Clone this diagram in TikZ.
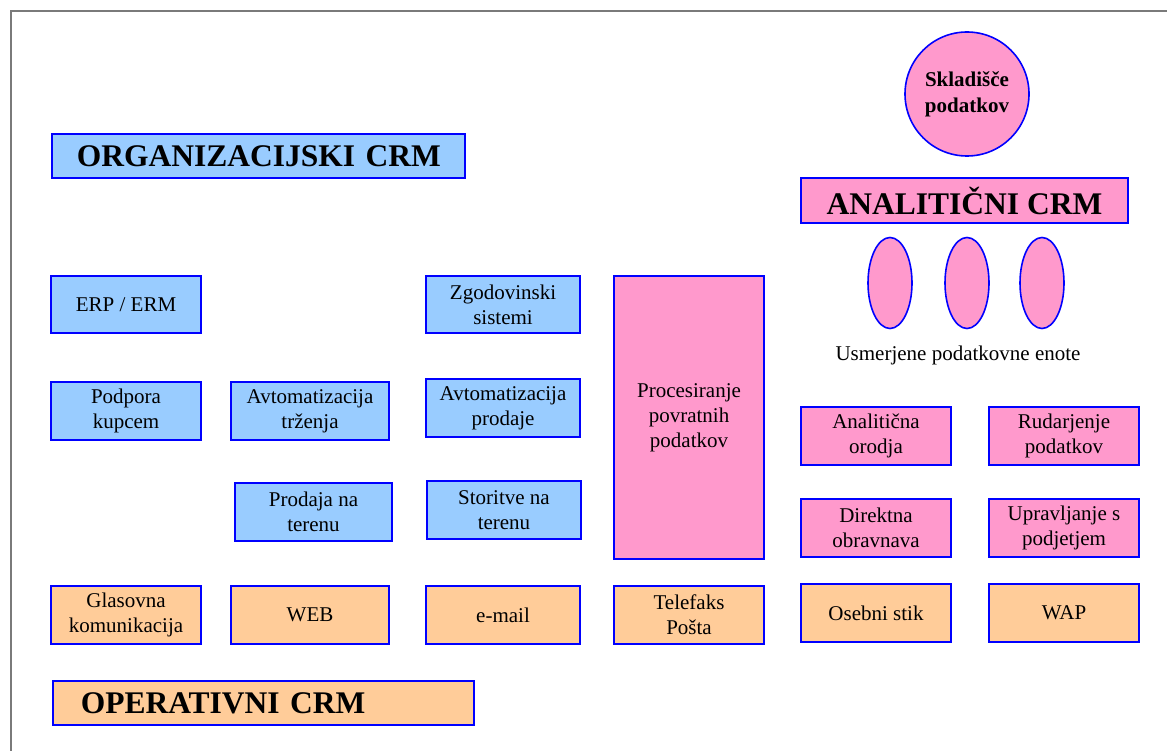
\documentclass[tikz,border=0pt]{standalone}
\usepackage{fontspec}
\setmainfont{Liberation Serif}
\usetikzlibrary{shapes.geometric}
\definecolor{orgblue}{HTML}{99CCFF}
\definecolor{anapink}{HTML}{FF99CC}
\definecolor{oppeach}{HTML}{FFCC99}
\definecolor{edgeblue}{HTML}{0000FF}
\definecolor{framegray}{HTML}{7A7A7A}
\tikzset{
  box/.style={draw=edgeblue, line width=1.6pt, rectangle, inner sep=0pt,
    align=center, font=\fontsize{21}{25}\selectfont},
  bluebox/.style={box, fill=orgblue},
  pinkbox/.style={box, fill=anapink},
  peachbox/.style={box, fill=oppeach},
  titlebox/.style={draw=edgeblue, line width=1.6pt, rectangle, inner ysep=0pt,
    font=\fontsize{31.5}{36}\selectfont\bfseries},
  unit/.style={draw=edgeblue, line width=1.6pt, fill=anapink, ellipse,
    inner sep=0pt, minimum width=44pt, minimum height=91pt}
}
\begin{document}
\begin{tikzpicture}[x=1pt,y=-1pt]
\useasboundingbox (0,0) rectangle (1167,751);
% page frame
\draw[framegray, line width=1.8pt] (11,751) -- (11,11) -- (1167,11);

% section titles
\node[titlebox, fill=orgblue, minimum height=44pt, inner xsep=25pt,
  text width=363pt, align=left, anchor=west] (org) at (51,156)
  {\mbox{ORGANIZACIJSKI CRM}};
\node[titlebox, fill=anapink, minimum height=45pt, minimum width=327pt,
  align=center] (ana) at (964.5,200.5) {ANALITIČNI CRM};
\node[titlebox, fill=oppeach, minimum height=44pt, inner xsep=28pt,
  text width=365pt, align=left, anchor=west] (ope) at (52,703)
  {\mbox{OPERATIVNI CRM}};

% data warehouse
\node[draw=edgeblue, line width=1.6pt, fill=anapink, circle, minimum size=124pt,
  inner sep=0pt, align=center, font=\fontsize{21}{26}\selectfont\bfseries]
  (dw) at (967,94) {Skladišče\\podatkov};

% data marts
\node[unit] (m1) at (890,283) {};
\node[unit] (m2) at (967,283) {};
\node[unit] (m3) at (1042,283) {};
\node[font=\fontsize{21}{25}\selectfont] (mlabel) at (958,355) {Usmerjene podatkovne enote};

% organisational CRM boxes
\node[bluebox, minimum width=150pt, minimum height=57pt] (erp) at (126,304.5) {ERP / ERM};
\node[bluebox, minimum width=154pt, minimum height=57pt] (zgo) at (503,304.5) {Zgodovinski\\sistemi};
\node[bluebox, minimum width=150pt, minimum height=58pt] (pod) at (126,411) {Podpora\\kupcem};
\node[bluebox, minimum width=158pt, minimum height=58pt] (avt) at (310,411) {Avtomatizacija\\trženja};
\node[bluebox, minimum width=154pt, minimum height=58pt] (avp) at (503,408) {Avtomatizacija\\prodaje};
\node[bluebox, minimum width=157pt, minimum height=58pt] (prt) at (313.5,512) {Prodaja na\\terenu};
\node[bluebox, minimum width=154pt, minimum height=58pt] (stt) at (504,510) {Storitve na\\terenu};

% analytical CRM boxes
\node[pinkbox, minimum width=150pt, minimum height=283pt] (proc) at (689,417.5) {Procesiranje\\povratnih\\podatkov};
\node[pinkbox, minimum width=150pt, minimum height=58pt] (aor) at (876,436) {Analitična\\orodja};
\node[pinkbox, minimum width=150pt, minimum height=58pt] (rud) at (1064,436) {Rudarjenje\\podatkov};
\node[pinkbox, minimum width=150pt, minimum height=58pt] (dir) at (876,528) {Direktna\\obravnava};
\node[pinkbox, minimum width=150pt, minimum height=58pt] (upr) at (1064,528) {Upravljanje s\\podjetjem};

% operational CRM channels
\node[peachbox, minimum width=150pt, minimum height=58pt] (gla) at (126,615) {Glasovna\\komunikacija};
\node[peachbox, minimum width=158pt, minimum height=58pt] (web) at (310,615) {WEB};
\node[peachbox, minimum width=154pt, minimum height=58pt] (eml) at (503,615) {e-mail};
\node[peachbox, minimum width=150pt, minimum height=58pt] (tel) at (689,615) {Telefaks\\Pošta};
\node[peachbox, minimum width=150pt, minimum height=58pt] (ose) at (876,613) {Osebni stik};
\node[peachbox, minimum width=150pt, minimum height=58pt] (wap) at (1064,613) {WAP};
\end{tikzpicture}
\end{document}
